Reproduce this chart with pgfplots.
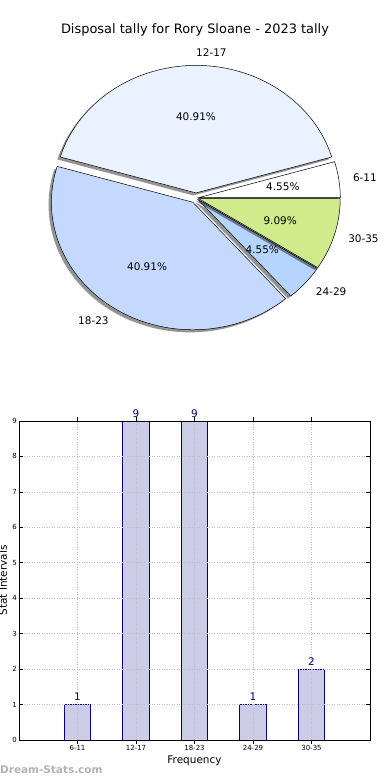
\documentclass[border=0pt]{standalone}
\usepackage{pgfplots}
\pgfplotsset{compat=1.18}
\usepackage{pgfplotstable}
\usepackage{fontspec}
\setmainfont{DejaVu Sans}
\pgfkeys{/pgf/number format/assume math mode=true}
\definecolor{pieA}{RGB}{255,255,255}
\definecolor{pieB}{RGB}{234,241,255}
\definecolor{pieC}{RGB}{197,217,255}
\definecolor{pieD}{RGB}{181,213,255}
\definecolor{pieE}{RGB}{207,235,139}
\definecolor{barfill}{RGB}{204,204,230}
\definecolor{navy}{RGB}{0,0,128}

\pgfplotstableread{
label count explode col
6-11  1 0.02 pieA
12-17 9 0.04 pieB
18-23 9 0.04 pieC
24-29 1 0.02 pieD
30-35 2 0.02 pieE
}\piedata

\pgfplotstableread{
idx count
0 1
1 9
2 9
3 1
4 2
}\bardata

\begin{document}
\begin{tikzpicture}
\useasboundingbox (0,0) rectangle (390bp,780bp);
% ---------- pie ----------
\begin{axis}[at={(0,0)}, anchor=south west, scale only axis,
  width=390bp, height=780bp, xmin=0, xmax=390, ymin=0, ymax=780,
  axis lines=none, ticks=none, clip=false]
\node[font=\fontsize{13}{15}\selectfont] at (axis cs:195,750) {Disposal tally for Rory Sloane - 2023 tally};
\def\total{0}
\pgfplotsforeachungrouped \i in {0,...,4}{%
  \pgfplotstablegetelem{\i}{count}\of\piedata
  \pgfmathsetmacro\total{\total+\pgfplotsretval}%
}
\def\cum{0}
\def\rx{141.5}\def\ry{127.5}\def\cx{196}\def\cy{582}
\pgfplotsforeachungrouped \i in {0,...,4}{%
  \pgfplotstablegetelem{\i}{count}\of\piedata \let\cnt\pgfplotsretval
  \pgfplotstablegetelem{\i}{explode}\of\piedata \let\ex\pgfplotsretval
  \pgfplotstablegetelem{\i}{col}\of\piedata \let\col\pgfplotsretval
  \pgfplotstablegetelem{\i}{label}\of\piedata \let\lab\pgfplotsretval
  \pgfmathsetmacro\aS{360*\cum/\total}%
  \pgfmathsetmacro\aE{360*(\cum+\cnt)/\total}%
  \pgfmathsetmacro\m{(\aS+\aE)/2}%
  \pgfmathsetmacro\px{\cx+\ex*\rx*cos(\m)}%
  \pgfmathsetmacro\py{\cy+\ex*\ry*sin(\m)}%
  \pgfmathsetmacro\sx{\px+\rx*cos(\aS)}%
  \pgfmathsetmacro\sy{\py+\ry*sin(\aS)}%
  \pgfmathsetmacro\shx{\px-0.02*\rx}%
  \pgfmathsetmacro\shy{\py-0.02*\ry}%
  \pgfmathsetmacro\ssx{\sx-0.02*\rx}%
  \pgfmathsetmacro\ssy{\sy-0.02*\ry}%
  \pgfmathsetmacro\lx{\px+1.1*\rx*cos(\m)}%
  \pgfmathsetmacro\ly{\py+1.1*\ry*sin(\m)}%
  \pgfmathsetmacro\tx{\px+0.6*\rx*cos(\m)}%
  \pgfmathsetmacro\ty{\py+0.6*\ry*sin(\m)}%
  \pgfmathsetmacro\pct{100*\cnt/\total}%
  \pgfmathparse{cos(\m)>-0.0001 ? 1 : 0}%
  \ifdim\pgfmathresult pt>0.5pt \def\anc{west}\else\def\anc{east}\fi
  \edef\cmd{%
    \noexpand\fill[black, fill opacity=0.42] (axis cs:\shx,\shy) -- (axis cs:\ssx,\ssy)
      arc[start angle=\aS, end angle=\aE, x radius=\rx bp, y radius=\ry bp] -- cycle;
    \noexpand\filldraw[fill=\col, draw=black, line width=0.5bp] (axis cs:\px,\py) -- (axis cs:\sx,\sy)
      arc[start angle=\aS, end angle=\aE, x radius=\rx bp, y radius=\ry bp] -- cycle;
    \noexpand\node[anchor=\anc, inner sep=0pt, font=\noexpand\fontsize{10.5}{12}\noexpand\selectfont] at (axis cs:\lx,\ly) {\lab};
    \noexpand\node[anchor=center, inner sep=0pt, font=\noexpand\fontsize{10.5}{12}\noexpand\selectfont] at (axis cs:\tx,\ty)
      {\noexpand\pgfmathprintnumber[fixed,fixed zerofill,precision=2]{\pct}\noexpand\%};
  }%
  \cmd
  \pgfmathsetmacro\cum{\cum+\cnt}%
}
\end{axis}
% ---------- bars ----------
\begin{axis}[at={(19bp,40bp)}, anchor=south west, scale only axis,
  width=351bp, height=319bp,
  xmin=-1, xmax=5, ymin=0, ymax=9,
  xtick={0,1,2,3,4}, xticklabels={6-11,12-17,18-23,24-29,30-35},
  ytick={0,1,2,3,4,5,6,7,8,9},
  tick align=inside, major tick length=4bp,
  tick style={black, line width=0.6bp},
  grid=major, grid style={gray!50, dash pattern=on 1bp off 1.5bp, line width=0.7bp},
  axis on top,
  axis line style={line width=0.8bp},
  tick label style={font=\fontsize{7}{8}\selectfont},
  yticklabel style={inner sep=1bp, xshift=-1bp},
  xticklabel style={inner sep=1bp},
  xlabel={Frequency}, ylabel={Stat Intervals},
  label style={font=\fontsize{10.5}{12}\selectfont},
  xlabel style={at={(axis description cs:0.5,-0.066)}, anchor=center},
  ylabel style={at={(axis description cs:-0.046,0.5)}, anchor=center},
  ybar, bar width=26.5bp,
  nodes near coords,
  nodes near coords style={text=navy, font=\fontsize{10.5}{12}\selectfont, anchor=south, inner sep=0pt, yshift=3.5bp},
  clip=false]
\addplot[fill=barfill, draw=navy, line width=0.7bp] table[x=idx, y=count] {\bardata};
\end{axis}
\node[anchor=west, inner sep=0pt, text=gray!60, font=\bfseries\fontsize{10.5}{12}\selectfont] at (0,10bp) {Dream-Stats.com};
\end{tikzpicture}
\end{document}
